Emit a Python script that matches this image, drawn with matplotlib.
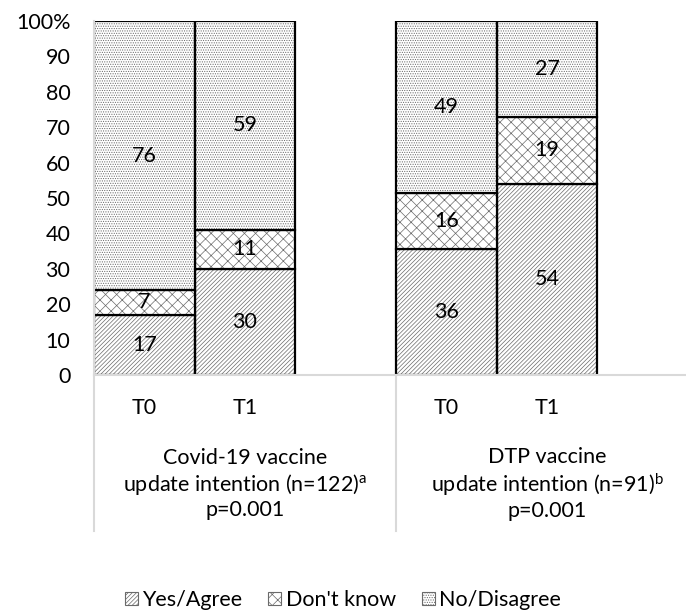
import numpy as np
import matplotlib.pyplot as plt
from matplotlib.patches import Patch
from matplotlib.transforms import blended_transform_factory

plt.rcParams['font.family'] = ['Lato', 'DejaVu Sans']
plt.rcParams['mathtext.fontset'] = 'custom'
plt.rcParams['mathtext.rm'] = 'Lato'
plt.rcParams['mathtext.default'] = 'regular'
plt.rcParams['hatch.linewidth'] = 0.5

# data
periods = ['T0', 'T1', 'T0', 'T1']
groups = ['Covid-19 vaccine\nupdate intention (n=122)$^{a}$\np=0.001',
          'DTP vaccine\nupdate intention (n=91)$^{b}$\np=0.001']
series = ['Yes/Agree', "Don't know", 'No/Disagree']
yes_agree = np.array([17, 30, 36, 54])
dont_know = np.array([7, 11, 16, 19])
no_disagree = np.array([76, 59, 49, 27])

slots = np.array([0.5, 1.5, 3.5, 4.5])
hatches = ['/' * 8, 'xxx', '.' * 7]
hatch_col = '#6a6a6a'
fs = 15.5

fig = plt.figure(figsize=(6.86, 6.13), dpi=100)
ax = fig.add_axes([94/686, 1-375/613, (698-94)/686, (375-21)/613])

vals = np.vstack([yes_agree, dont_know, no_disagree]).astype(float)
pct = vals / vals.sum(axis=0) * 100
bottom = np.zeros(4)
for i in range(3):
    ax.bar(slots, pct[i], width=1.0, bottom=bottom, color='white',
           edgecolor=hatch_col, hatch=hatches[i], linewidth=0)
    ax.bar(slots, pct[i], width=1.0, bottom=bottom, fill=False,
           edgecolor='black', linewidth=1.6)
    for x, b, h, v in zip(slots, bottom, pct[i], vals[i]):
        ax.text(x, b + h/2, f'{int(v)}', ha='center', va='center', fontsize=fs)
    bottom += pct[i]

ax.set_xlim(0, 6)
ax.set_ylim(0, 100)
ax.set_yticks(range(0, 101, 10))
ax.set_yticklabels([str(t) for t in range(0, 100, 10)] + ['100%'])
ax.tick_params(axis='y', length=0, pad=17, labelsize=fs)
ax.set_xticks([])
for s in ['top', 'right']:
    ax.spines[s].set_visible(False)
for s in ['left', 'bottom']:
    ax.spines[s].set_color('#d9d9d9')
    ax.spines[s].set_linewidth(1.5)

trans = blended_transform_factory(ax.transData, ax.transAxes)
for x, lab in zip(slots, periods):
    ax.text(x, -33/354, lab, transform=trans, ha='center', va='center', fontsize=fs)
for x, lab in zip([1.5, 4.5], groups):
    ax.text(x, -(484-375)/354, lab, transform=trans, ha='center', va='center',
            fontsize=fs, linespacing=1.2)
for x in [0, 3]:
    ax.plot([x, x], [0, -(531-375)/354], transform=trans, color='#d9d9d9',
            linewidth=1.5, clip_on=False)

handles = [Patch(facecolor='white', edgecolor=hatch_col, hatch=h, linewidth=0.8, label=s)
           for h, s in zip(hatches, series)]
fig.legend(handles=handles, loc='center', bbox_to_anchor=(343/686, 1-600/613),
           ncol=3, frameon=False, fontsize=fs, handlelength=0.6, handleheight=0.6,
           handletextpad=0.2, columnspacing=1.2)

fig.savefig('out.png', dpi=100)
